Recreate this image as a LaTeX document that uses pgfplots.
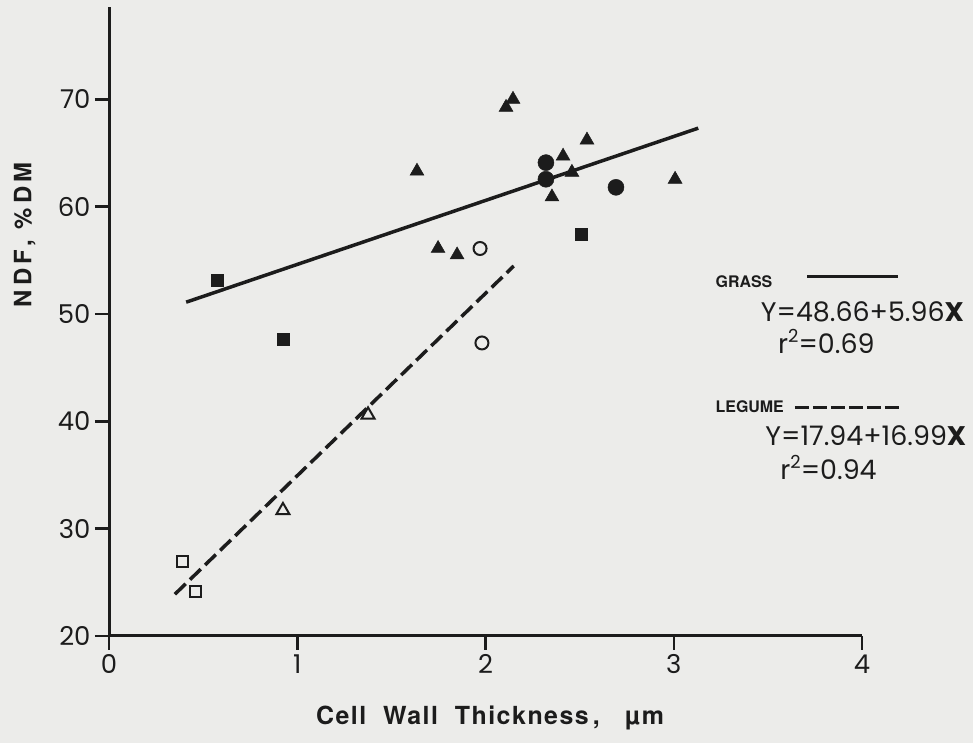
\documentclass[border=0pt]{standalone}
\usepackage{fontspec}
\usepackage{pgfplots}
\pgfplotsset{compat=1.18}
\setmainfont{Poppins}
\newfontfamily\heros{TeX Gyre Heros}
\newfontfamily\herosls[LetterSpace=18]{TeX Gyre Heros}
\newfontfamily\herosxl[LetterSpace=6]{TeX Gyre Heros}
\definecolor{ink}{HTML}{1C1C1C}
\definecolor{paper}{HTML}{ECECEA}

\begin{document}
\begin{tikzpicture}[x=1bp,y=1bp]
\fill[paper] (0,0) rectangle (973,743);
\useasboundingbox (0,0) rectangle (973,743);
\begin{axis}[
  at={(109bp,107bp)}, anchor=south west,
  width=753bp, height=629bp, scale only axis,
  xmin=0, xmax=4, ymin=20, ymax=78.6,
  axis x line*=bottom, axis y line*=left,
  axis line style={line width=3bp, ink},
  xtick={0,1,2,3,4}, ytick={20,30,40,50,60,70},
  tick align=outside, major tick length=14bp,
  tick style={line width=2.5bp, ink},
  /pgf/number format/assume math mode=true,
  tick label style={font=\fontsize{26}{26}\selectfont, text=ink},
  xticklabel style={yshift=-1bp},
  yticklabel style={xshift=-1bp},
  xlabel={\herosxl\bfseries Cell\ \ Wall\ \ Thickness\,,\ \ \ µm},
  xlabel style={font=\fontsize{25}{25}\selectfont, text=ink,
    at={(axis description cs:0.506,-0.13)}, anchor=center},
  ylabel={\herosls\bfseries NDF, \%DM},
  ylabel style={font=\fontsize{24}{24}\selectfont, text=ink,
    at={(axis description cs:-0.112,0.638)}, anchor=center},
  clip=false,
  every node/.append style={inner sep=1bp},
]
% regression lines
\addplot[ink, line width=3.5bp] coordinates {(0.41,51.10) (3.13,67.31)};
\addplot[ink, line width=3.5bp, dash pattern=on 15bp off 6bp]
  coordinates {(0.35,23.89) (2.15,54.47)};

% grass: filled symbols
\addplot[only marks, mark=triangle*, mark size=8bp, ink, mark options={line width=0.5bp}]
  coordinates {(1.636,63.3) (1.748,56.1) (1.849,55.5) (2.109,69.25) (2.146,70.0)
               (2.539,66.2) (2.412,64.7) (2.459,63.2) (2.353,60.9) (3.007,62.55)};
\addplot[only marks, mark=*, mark size=8bp, ink, mark options={line width=0.5bp}]
  coordinates {(2.321,64.1) (2.321,62.55) (2.693,61.8)};
\addplot[only marks, mark=square*, mark size=6bp, ink, mark options={line width=0.5bp}]
  coordinates {(0.574,53.15) (0.924,47.65) (2.507,57.4)};

% legume: open symbols
\addplot[only marks, mark=square, mark size=5.5bp, ink, mark options={line width=2bp}]
  coordinates {(0.393,26.9) (0.462,24.1)};
\addplot[only marks, mark=triangle, mark size=7.5bp, ink, mark options={line width=2bp}]
  coordinates {(0.924,31.7) (1.376,40.6)};
\addplot[only marks, mark=o, mark size=6.5bp, ink, mark options={line width=2bp}]
  coordinates {(1.971,56.1) (1.981,47.3)};

% key and fitted equations
\node[anchor=west, text=ink, font=\heros\bfseries\fontsize{16}{16}\selectfont]
  at (axis description cs:0.801,0.563) {GRASS};
\draw[ink, line width=3bp] (axis description cs:0.927,0.571) -- (axis description cs:1.048,0.571);
\node[anchor=west, text=ink, font=\fontsize{27}{27}\selectfont]
  at (axis description cs:0.861,0.516) {Y=48.66+5.96\textbf{X}};
\node[anchor=west, text=ink, font=\fontsize{27}{27}\selectfont]
  at (axis description cs:0.884,0.468) {r\raisebox{0.42em}{\fontsize{18}{18}\selectfont 2}=0.69};

\node[anchor=west, text=ink, font=\heros\bfseries\fontsize{16}{16}\selectfont]
  at (axis description cs:0.801,0.364) {LEGUME};
\draw[ink, line width=3bp, dash pattern=on 14bp off 4bp]
  (axis description cs:0.911,0.364) -- (axis description cs:1.050,0.364);
\node[anchor=west, text=ink, font=\fontsize{27}{27}\selectfont]
  at (axis description cs:0.867,0.319) {Y=17.94+16.99\textbf{X}};
\node[anchor=west, text=ink, font=\fontsize{27}{27}\selectfont]
  at (axis description cs:0.887,0.268) {r\raisebox{0.42em}{\fontsize{18}{18}\selectfont 2}=0.94};
\end{axis}
\end{tikzpicture}
\end{document}
